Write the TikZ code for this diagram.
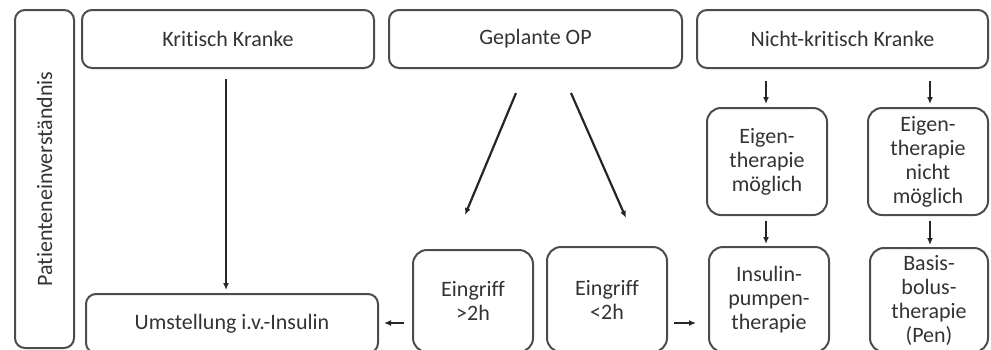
\documentclass[tikz,border=0pt]{standalone}
\usepackage{fontspec}
\setmainfont{Carlito}[Ligatures=NoCommon]
\usetikzlibrary{arrows.meta}

\begin{document}
\begin{tikzpicture}[x=0.5pt,y=-0.5pt,line width=1pt,
  font=\fontsize{11}{12}\selectfont,
  box/.style={draw=black!70,rounded corners=5pt,inner sep=0pt,text=black!80,align=center},
  smallbox/.style={box,rounded corners=7pt,minimum width=60pt},
  pfeil/.style={draw=black!85,line width=1.1pt,-{Latex[length=3.5pt,width=3pt]}}]
  \useasboundingbox (0,0) rectangle (991,349);
  \clip (0,0) rectangle (991,349);

  % left bar
  \node[box,rotate=90,minimum width=169pt,minimum height=29.5pt] (pe) at (44.5,179) {Patienteneinverständnis};

  % top row
  \node[box,minimum width=146pt,minimum height=29pt] (kk) at (228,39) {Kritisch Kranke};
  \node[box,minimum width=146.5pt,minimum height=29pt] (op) at (535.5,39) {Geplante OP};
  \node[box,minimum width=145.5pt,minimum height=29pt] (nk) at (842.5,39) {Nicht-kritisch Kranke};

  % bottom row
  \node[box,minimum width=146pt,minimum height=29.5pt] (um) at (232,323.5) {Umstellung i.v.-Insulin};
  \node[smallbox,minimum height=51pt] (e2) at (473,301) {Eingriff\\>2h};
  \node[smallbox,minimum height=52.5pt] (e1) at (607,299.5) {Eingriff\\<2h};
  \node[smallbox,minimum height=52.5pt] (ip) at (769,299.5) {Insulin-\\pumpen-\\therapie};
  \node[smallbox,minimum width=59pt,minimum height=52pt] (bb) at (929,300) {Basis-\\bolus-\\therapie\\(Pen)};

  % middle row
  \node[smallbox,minimum height=53.5pt] (em) at (767,161.5) {Eigen-\\therapie\\möglich};
  \node[smallbox,minimum height=53.5pt] (en) at (928,161.5) {Eigen-\\therapie\\nicht\\möglich};

  % arrows
  \coordinate (opl) at (516,93);
  \coordinate (opr) at (571,93);
  \coordinate (e2t) at (465,215);
  \coordinate (e1t) at (626,218);
  \draw[pfeil,shorten <=5pt,shorten >=1.5pt] (kk.south-|226,0) -- (um.north-|226,0);
  \draw[pfeil] (opl) -- (e2t);
  \draw[pfeil] (opr) -- (e1t);
  \draw[pfeil,shorten <=6pt,shorten >=1.5pt] (nk.south-|766,0) -- (em.north-|766,0);
  \draw[pfeil,shorten <=6pt,shorten >=1.5pt] (nk.south-|930,0) -- (en.north-|930,0);
  \draw[pfeil,shorten <=2.5pt,shorten >=1pt] (em.south-|766,0) -- (ip.north-|766,0);
  \draw[pfeil,shorten <=2.5pt,shorten >=1pt] (en.south-|930,0) -- (bb.north-|930,0);
  \draw[pfeil,shorten <=4pt,shorten >=2.5pt] (e2.west|-0,323) -- (um.east|-0,323);
  \draw[pfeil,shorten <=3pt,shorten >=6pt] (e1.east|-0,323) -- (ip.west|-0,323);
\end{tikzpicture}
\end{document}
